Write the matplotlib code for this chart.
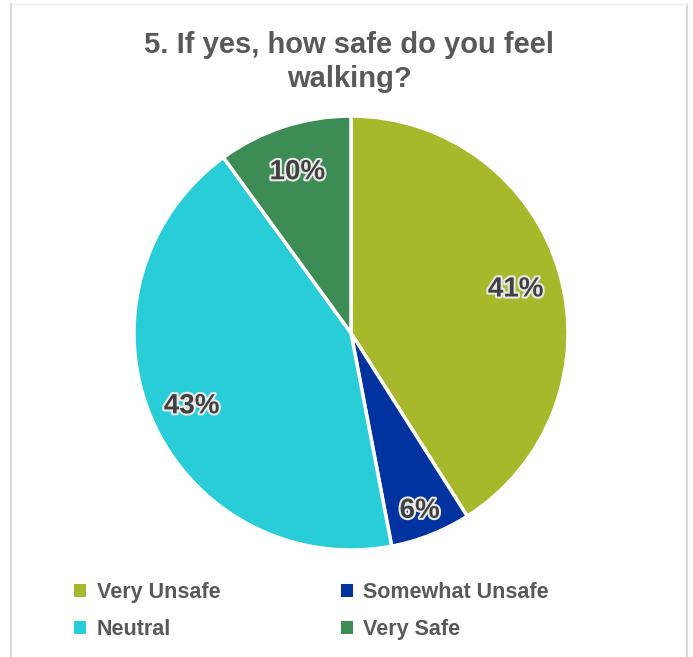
import numpy as np
import matplotlib.pyplot as plt
import matplotlib.patheffects as pe
from matplotlib.patches import Patch
from matplotlib.lines import Line2D

plt.rcParams['font.family'] = ['Liberation Sans', 'DejaVu Sans']

labels = ['Very Unsafe', 'Somewhat Unsafe', 'Neutral', 'Very Safe']
values = [41, 6, 43, 10]
colors = ['#A8B82B', '#0033A0', '#28CDD8', '#3D8B55']
label_dist = [0.79, 0.86, 0.8, 0.8]

W, H = 693, 657
fig = plt.figure(figsize=(W / 100, H / 100), dpi=100)

# pie axes: centre (351, 333), radius 217 px
cx, cy, r = 351, 333, 217
ax = fig.add_axes([(cx - r) / W, (H - cy - r) / H, 2 * r / W, 2 * r / H])
wedges, texts, autotexts = ax.pie(
    values, colors=colors, startangle=90, counterclock=False,
    autopct='%1.0f%%', pctdistance=0.8,
    wedgeprops=dict(edgecolor='white', linewidth=2.5),
    textprops=dict(fontsize=20, fontweight='bold', color='#404040'))
for w, t, d in zip(wedges, autotexts, label_dist):
    ang = np.deg2rad((w.theta1 + w.theta2) / 2)
    t.set_position((d * np.cos(ang), d * np.sin(ang) - 0.02))
    t.set_path_effects([pe.withStroke(linewidth=3, foreground='#e8e8e8')])
ax.set_xlim(-1.0, 1.0)
ax.set_ylim(-1.0, 1.0)
ax.axis('off')

fig.text(349 / W, 1 - 62 / H, '5. If yes, how safe do you feel\nwalking?',
         ha='center', va='center', fontsize=21, fontweight='bold',
         color='#595959', linespacing=1.27)

# legend, column-first order
order = [0, 2, 1, 3]
handles = [Patch(facecolor=colors[i], edgecolor='none') for i in order]
fig.legend(handles, [labels[i] for i in order], ncol=2, frameon=False,
           loc='upper left', bbox_to_anchor=(74 / W, 1 - 582 / H),
           labelcolor='#595959', prop=dict(weight='bold', size=15.5),
           handlelength=0.55, handleheight=0.55, handletextpad=0.5,
           columnspacing=5.6, labelspacing=0.75, borderpad=0, borderaxespad=0)

# chart border
fig.add_artist(Line2D([10.5 / W, 10.5 / W], [0, 1 - 4 / H], color='#d9d9d9', lw=1.5))
fig.add_artist(Line2D([687 / W, 687 / W], [0, 1 - 4 / H], color='#d9d9d9', lw=1.5))
fig.add_artist(Line2D([10.5 / W, 687 / W], [1 - 4 / H, 1 - 4 / H], color='#f0f0f0', lw=1))

fig.savefig('out.png', dpi=100)
